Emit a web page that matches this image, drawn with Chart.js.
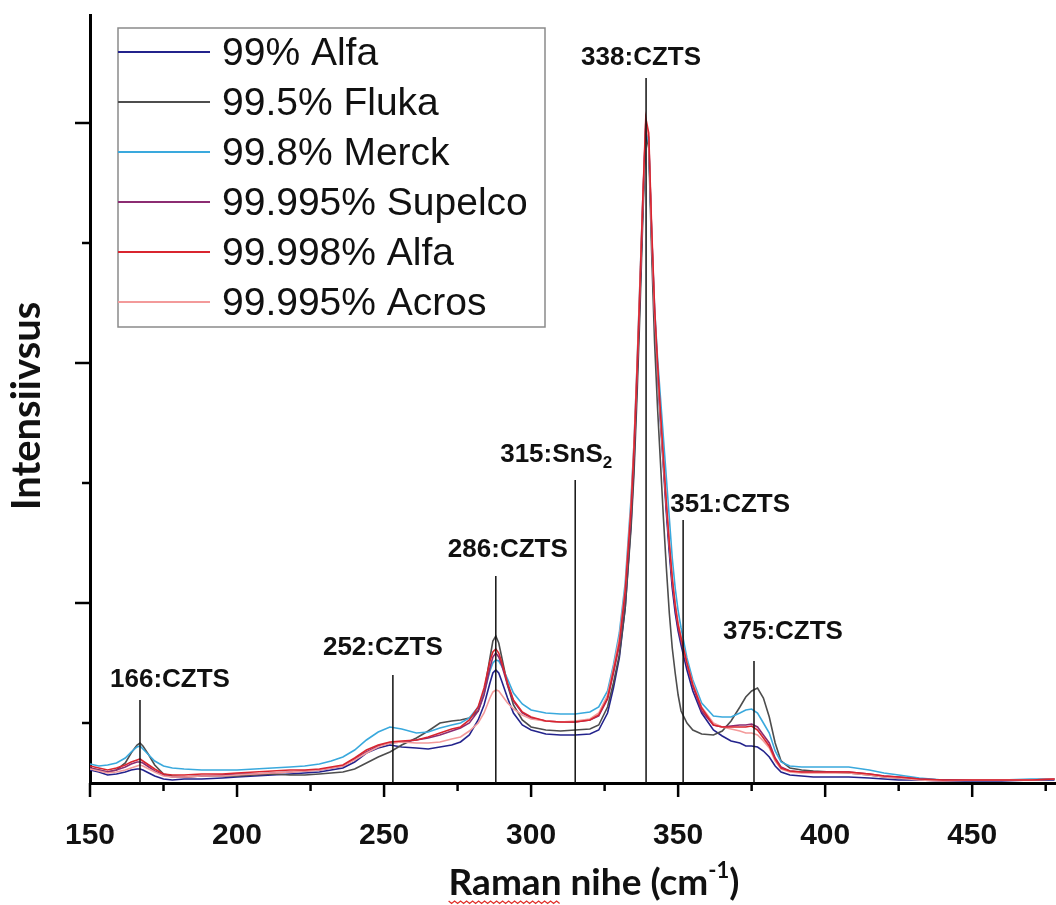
<!DOCTYPE html>
<html>
<head>
<meta charset="utf-8">
<script src="https://cdn.jsdelivr.net/npm/chart.js@4.4.0/dist/chart.umd.min.js"></script>
<style>
  html, body { margin: 0; padding: 0; background: #fff; }
</style>
</head>
<body>
<canvas id="ramanChart" width="1056" height="905"></canvas>
<script>
// Raman shift (cm-1) and intensity (a.u.)
const ramanShift = [150,153,156,159,162,164,166,167,168,170,172,175,178,182,188,195,200,206,212,218,223,228,232,236,240,244,248,252,256,261,265,269,273,276,279,282,284,286,287,288,289,290,292,294,297,300,305,310,315,320,323,326,328,330,332,334,335,336,337,338,339,340,341,342,343,344,345,346,347,348,349,350,351,353,355,358,362,365,368,371,373,375,377,379,381,383,385,388,392,396,402,408,415,420,425,432,440,450,460,470,478];

const alfa99   = [13,11,8,9,11,13,14,14,13,10,7,4,3,4,4,5,6,7,8,9,10,11,13,15,21,30,35,38,36,35,34,36,38,41,48,63,78,100,110,113,110,102,85,70,58,53,49,48,48,49,53,70,95,125,175,260,320,400,485,575,655,640,545,465,410,360,315,270,230,195,170,152,138,113,92,70,53,47,42,40,37,37,36,32,26,17,11,8,7,6,6,6,5,4,3,3,2,2,2,3,3];
const fluka995 = [15,13,11,13,20,30,38,40,37,28,18,9,7,6,7,7,7,8,9,8,8,9,10,11,14,20,26,31,38,45,52,60,62,63,65,72,90,125,142,147,140,126,98,78,63,56,53,52,53,54,58,76,100,128,175,255,310,385,470,565,650,635,530,440,375,320,265,215,170,135,110,88,72,60,53,49,48,52,62,76,86,92,95,85,66,40,22,15,13,12,11,10,8,6,5,4,3,3,3,3,4];
const merck998 = [19,17,18,20,25,31,36,37,34,28,22,17,15,14,13,13,13,14,15,16,17,19,22,26,33,43,51,56,54,50,51,55,58,60,65,76,90,112,120,123,122,117,104,90,79,73,70,69,69,71,76,92,118,150,200,285,340,415,500,585,655,640,550,475,425,385,345,305,265,225,195,172,155,125,103,80,67,66,66,70,73,74,70,60,50,32,21,17,16,16,16,16,13,10,8,5,3,3,3,4,4];
const supelco  = [15,13,11,13,16,19,21,21,20,16,12,8,6,6,7,8,9,9,10,11,12,13,15,17,24,31,37,40,41,43,45,48,52,55,60,72,88,115,126,130,126,118,98,82,70,65,62,61,61,63,67,84,110,138,188,270,330,405,490,580,660,645,550,470,415,365,320,275,235,200,175,155,142,118,97,72,58,56,57,58,58,59,56,48,40,25,16,12,11,11,11,11,9,7,6,4,3,3,3,3,4];
const alfa998  = [17,15,13,15,18,21,23,24,22,18,14,9,8,8,9,9,10,11,12,13,13,14,16,18,25,33,38,41,42,43,46,50,54,56,63,76,95,122,131,134,130,121,100,83,71,66,62,61,61,63,68,85,112,140,192,275,335,410,495,585,665,650,555,475,420,370,325,280,240,205,178,158,145,120,98,75,58,56,56,56,56,57,53,45,37,24,15,12,11,11,11,11,9,7,6,4,3,3,3,3,4];
const acros    = [14,12,10,11,13,15,17,18,17,14,11,7,6,6,7,7,8,9,10,11,12,13,15,17,23,30,36,40,41,40,40,41,44,46,52,60,70,85,91,93,92,88,80,74,68,64,62,61,62,64,70,88,115,145,195,280,340,415,500,585,660,645,550,470,415,365,320,280,240,205,180,160,146,120,100,76,60,56,54,52,50,50,48,42,35,22,14,11,10,10,10,10,8,6,5,3,2,3,3,3,4];

const seriesNames = ['99% Alfa', '99.5% Fluka', '99.8% Merck', '99.995% Supelco', '99.998% Alfa', '99.995% Acros'];
const seriesColors = ['#23238c', '#4d4d4d', '#3aa9dd', '#8c2c72', '#d9252f', '#f39a9a'];

// peak markers
const peakPos = [167, 253, 288, 315, 339.1, 351.7, 375.8];
const peakTop = [83, 108, 207, 303, 705, 263, 122];
const peakLabels = ['166:CZTS', '252:CZTS', '286:CZTS', '315:SnS\u2082', '338:CZTS', '351:CZTS', '375:CZTS'];

// axis ticks
const xMajorTicks = [150, 200, 250, 300, 350, 400, 450];
const xMinorTicks = [175, 225, 275, 325, 375, 425, 475];
const yMajorTicks = [180, 420, 660];
const yMinorTicks = [60, 300, 540];

// label offsets from the top of each marker line (px)
const labelShift = [[30, -20], [-10, -27], [12, -26], [-19, -25], [-5, -20], [47, -15], [29, -29]];

const allSeries = [alfa99, fluka995, merck998, supelco, alfa998, acros];
const drawOrder = [5, 4, 3, 2, 0, 1];

const datasets = allSeries.map(function (vals, i) {
  return {
    label: seriesNames[i],
    data: ramanShift.map(function (x, j) { return { x: x, y: vals[j] }; }),
    borderColor: seriesColors[i],
    borderWidth: 1.6,
    pointRadius: 0,
    tension: 0,
    fill: false,
    order: drawOrder[i]
  };
});

function drawText(ctx, txt, cx, cy) {
  // handles subscript 2
  const parts = txt.split('\u2082');
  const main = parts[0];
  const hasSub = parts.length > 1;
  const mainW = ctx.measureText(main).width;
  ctx.save();
  ctx.font = 'bold 17px "Liberation Sans", Arial';
  const subW = hasSub ? ctx.measureText('2').width : 0;
  ctx.restore();
  let x0 = cx - (mainW + subW) / 2;
  ctx.textAlign = 'left';
  ctx.textBaseline = 'middle';
  ctx.fillText(main, x0, cy);
  if (hasSub) {
    ctx.save();
    ctx.font = 'bold 17px "Liberation Sans", Arial';
    ctx.fillText('2', x0 + mainW, cy + 8);
    ctx.restore();
  }
}

const decorPlugin = {
  id: 'decor',
  afterDraw: function (chart) {
    const ctx = chart.ctx;
    const xs = chart.scales.x;
    const ys = chart.scales.y;
    const area = chart.chartArea;
    ctx.save();
    ctx.strokeStyle = '#000';
    ctx.lineWidth = 2.5;
    // x ticks
    xMajorTicks.forEach(function (v) {
      const px = xs.getPixelForValue(v);
      ctx.beginPath(); ctx.moveTo(px, area.bottom); ctx.lineTo(px, area.bottom + 14); ctx.stroke();
    });
    xMinorTicks.forEach(function (v) {
      const px = xs.getPixelForValue(v);
      ctx.beginPath(); ctx.moveTo(px, area.bottom); ctx.lineTo(px, area.bottom + 8); ctx.stroke();
    });
    // y ticks
    yMajorTicks.forEach(function (v) {
      const py = ys.getPixelForValue(v);
      ctx.beginPath(); ctx.moveTo(area.left, py); ctx.lineTo(area.left - 15, py); ctx.stroke();
    });
    yMinorTicks.forEach(function (v) {
      const py = ys.getPixelForValue(v);
      ctx.beginPath(); ctx.moveTo(area.left, py); ctx.lineTo(area.left - 8, py); ctx.stroke();
    });

    // peak markers
    ctx.lineWidth = 1.5;
    ctx.strokeStyle = '#111';
    ctx.fillStyle = '#111';
    ctx.font = 'bold 26px "Liberation Sans", Arial';
    peakPos.forEach(function (p, i) {
      const px = xs.getPixelForValue(p);
      const top = ys.getPixelForValue(peakTop[i]);
      ctx.beginPath(); ctx.moveTo(px, area.bottom); ctx.lineTo(px, top); ctx.stroke();
      drawText(ctx, peakLabels[i], px + labelShift[i][0], top + labelShift[i][1]);
    });

    // legend
    const lx = 118, ly = 28, lw = 427, lh = 299;
    ctx.fillStyle = '#fff';
    ctx.fillRect(lx, ly, lw, lh);
    ctx.strokeStyle = '#8a8a8a';
    ctx.lineWidth = 1.5;
    ctx.strokeRect(lx, ly, lw, lh);
    ctx.font = '39px "Liberation Sans", Arial';
    ctx.textAlign = 'left';
    ctx.textBaseline = 'middle';
    chart.data.datasets.forEach(function (ds, i) {
      const ry = 52 + i * 50;
      ctx.strokeStyle = ds.borderColor;
      ctx.lineWidth = 1.8;
      ctx.beginPath(); ctx.moveTo(lx, ry); ctx.lineTo(lx + 92, ry); ctx.stroke();
      ctx.fillStyle = '#111';
      ctx.fillText(ds.label, lx + 104, ry + 2);
    });

    // axis titles
    ctx.fillStyle = '#111';
    ctx.font = 'bold 40px Lato, "Open Sans", sans-serif';
    ctx.save();
    ctx.translate(27, 406);
    ctx.rotate(-Math.PI / 2);
    ctx.textAlign = 'center';
    ctx.textBaseline = 'middle';
    ctx.fillText('Intensiivsus', 0, 0);
    ctx.restore();

    const big = 'bold 37px Lato, "Open Sans", sans-serif';
    const small = 'bold 22px Lato, "Open Sans", sans-serif';
    const t1 = 'Raman nihe (cm', t2 = '-1', t3 = ')';
    ctx.font = big;
    const w1 = ctx.measureText(t1).width;
    const w3 = ctx.measureText(t3).width;
    ctx.font = small;
    const w2 = ctx.measureText(t2).width;
    const total = w1 + w2 + w3;
    const tx = 594 - total / 2, ty = 883;
    ctx.textAlign = 'left';
    ctx.textBaseline = 'middle';
    ctx.font = big;
    ctx.fillText(t1, tx, ty);
    ctx.fillText(t3, tx + w1 + w2, ty);
    ctx.font = small;
    ctx.fillText(t2, tx + w1, ty - 12);
    // spell-check squiggle under "Raman"
    ctx.font = big;
    const wr = ctx.measureText('Raman').width;
    ctx.strokeStyle = '#e0302a';
    ctx.lineWidth = 1.3;
    ctx.beginPath();
    for (let k = 0; k <= wr; k += 3) {
      const yy = ty + 18 + ((k / 3) % 2 === 0 ? 0 : 2.5);
      if (k === 0) ctx.moveTo(tx + k, yy); else ctx.lineTo(tx + k, yy);
    }
    ctx.stroke();
    ctx.restore();
  }
};

new Chart(document.getElementById('ramanChart'), {
  type: 'line',
  data: { datasets: datasets },
  options: {
    responsive: false,
    animation: false,
    devicePixelRatio: 1,
    layout: { padding: { top: 15, right: 0, left: 0, bottom: 0 } },
    plugins: { legend: { display: false }, tooltip: { enabled: false } },
    scales: {
      x: {
        type: 'linear',
        min: 150,
        max: 478.5,
        grid: { display: false, drawTicks: false },
        border: { display: true, color: '#000', width: 3 },
        afterBuildTicks: function (s) { s.ticks = xMajorTicks.map(function (v) { return { value: v }; }); },
        afterFit: function (s) { s.height = 122; },
        ticks: {
          padding: 35,
          color: '#111',
          font: { family: '"Liberation Sans", Arial', size: 30, weight: 'bold' }
        }
      },
      y: {
        type: 'linear',
        min: 0,
        max: 768,
        grid: { display: false, drawTicks: false },
        border: { display: true, color: '#000', width: 3 },
        ticks: { display: false },
        afterFit: function (s) { s.width = 90; }
      }
    }
  },
  plugins: [decorPlugin]
});
</script>
</body>
</html>
